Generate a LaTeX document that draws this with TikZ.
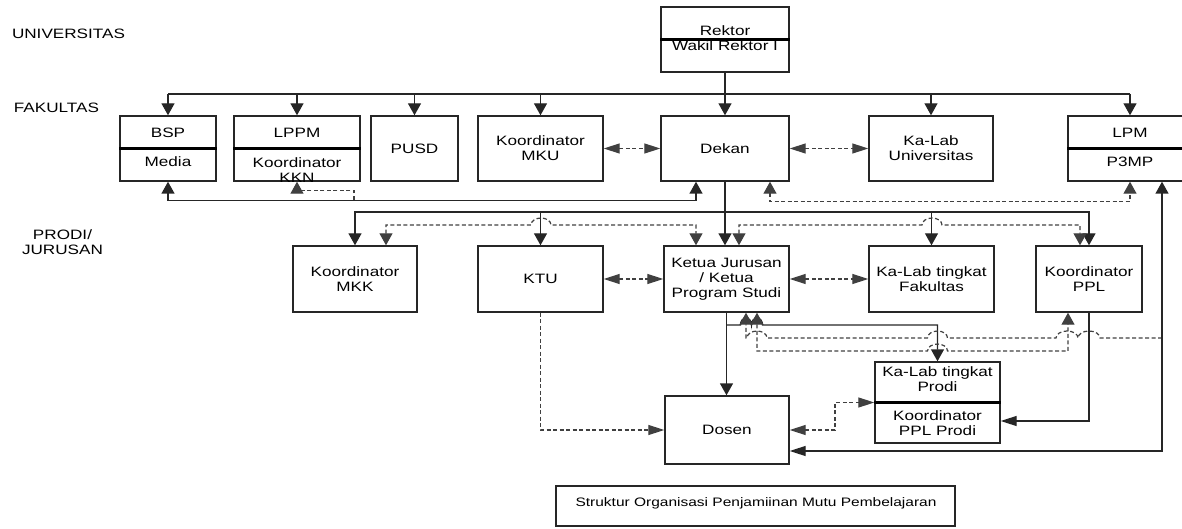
\documentclass[tikz,border=0pt]{standalone}
\usepackage{fontspec}
\setmainfont{Liberation Sans}[FakeStretch=1.26]
\usetikzlibrary{arrows.meta,calc}
\begin{document}
\begin{tikzpicture}[x=1pt,y=1pt,
  every node/.style={font=\fontsize{13.6}{15}\selectfont, inner sep=0pt},
  box/.style={draw=black!85, line width=1.4pt, rectangle, minimum height=65pt, align=center},
  divider/.style={line width=2.2pt, draw=black},
  ln/.style={line width=1.4pt, draw=black!85},
  dsh/.style={line width=1.2pt, draw=black!75, dash pattern=on 4pt off 2.5pt},
  av/.style={-{Triangle[length=12pt,width=13pt]}},
  ah/.style={-{Triangle[length=16pt,width=10pt]}},
  avv/.style={{Triangle[length=12pt,width=13pt]}-{Triangle[length=12pt,width=13pt]}},
  ahh/.style={{Triangle[length=16pt,width=10pt]}-{Triangle[length=16pt,width=10pt]}},
  avh/.style={{Triangle[length=12pt,width=13pt]}-{Triangle[length=16pt,width=10pt]}},
]
\useasboundingbox (0,0) rectangle (1182,528);

% level labels
\node (univ) at (68.5,494) {UNIVERSITAS};
\node (fak) at (56.5,420) {FAKULTAS};
\node[align=center] (prodi) at (62.5,286) {PRODI/\\JURUSAN};

% Rektor
\node[box, minimum width=128pt] (rektor) at (725,488.5) {};
\draw[divider] (rektor.west) -- (rektor.east);
\node[anchor=base] (rektorA) at (725,492) {Rektor};
\node[anchor=base] (rektorB) at (725,477.5) {Wakil Rektor I};

% Fakultas level
\node[box, minimum width=96pt] (bsp) at (168,379.5) {};
\draw[divider] (bsp.west) -- (bsp.east);
\node[anchor=base] (bspA) at (168,390) {BSP};
\node[anchor=base] (bspB) at (168,361) {Media};

\node[box, minimum width=126pt] (lppm) at (297,379.5) {};
\draw[divider] (lppm.west) -- (lppm.east);
\node[anchor=base] (lppmA) at (297,390) {LPPM};
\node[anchor=base] (lppmB) at (297,360) {Koordinator};
\node[anchor=base] (lppmC) at (297,345) {KKN};

\node[box, minimum width=87pt] (pusd) at (414.5,379.5) {PUSD};
\node[box, minimum width=125pt] (mku) at (540.5,379.5) {Koordinator\\MKU};
\node[box, minimum width=128pt] (dekan) at (725,379.5) {Dekan};
\node[box, minimum width=124pt] (kalabU) at (931,379.5) {Ka-Lab\\Universitas};

\node[box, minimum width=124pt] (lpm) at (1130,379.5) {};
\draw[divider] (lpm.west) -- (lpm.east);
\node[anchor=base] (lpmA) at (1130,390) {LPM};
\node[anchor=base] (lpmB) at (1130,361) {P3MP};

% Prodi level
\node[box, minimum width=124pt, minimum height=66pt] (mkk) at (355,249) {Koordinator\\MKK};
\node[box, minimum width=125pt, minimum height=66pt] (ktu) at (540.5,249) {KTU};
\node[box, minimum width=125pt, minimum height=66pt] (ketua) at (726.5,249) {Ketua Jurusan\\/ Ketua\\Program Studi};
\node[box, minimum width=125pt, minimum height=66pt] (kalabF) at (931.5,249) {Ka-Lab tingkat\\Fakultas};
\node[box, minimum width=106pt, minimum height=66pt] (ppl) at (1089,249) {Koordinator\\PPL};

% bottom
\node[box, minimum width=124pt, minimum height=68pt] (dosen) at (727,98) {Dosen};
\node[box, minimum width=125pt, minimum height=81pt] (kalabP) at (937.5,125.5) {};
\draw[divider] (kalabP.west) -- (kalabP.east);
\node[anchor=base] (kalabPA) at (937.5,152) {Ka-Lab tingkat};
\node[anchor=base] (kalabPB) at (937.5,137) {Prodi};
\node[anchor=base] (kalabPC) at (937.5,108) {Koordinator};
\node[anchor=base] (kalabPD) at (937.5,93) {PPL Prodi};

\node[box, minimum width=399pt, minimum height=40pt] (cap) at (755.5,22) {};
\node[font=\fontsize{12.3}{14}\selectfont] (capT) at (756,25) {Struktur Organisasi Penjamiinan Mutu Pembelajaran};

% ---------- connectors ----------
\draw[ln,av] (rektor.south) -- (dekan.north);
\coordinate (bus) at (0,434);
\draw[ln] (bsp.north |- bus) -- (lpm.north |- bus);
\foreach \n in {bsp,lppm,pusd,mku,kalabU,lpm} \draw[ln,av] (\n.north |- bus) -- (\n.north);

\draw[dsh,ahh] (mku.east) -- (dekan.west);
\draw[dsh,ahh] (dekan.east) -- (kalabU.west);

\draw[ln,avv] (bsp.south) |- ([xshift=-29pt,yshift=-19pt]dekan.south) -- ([xshift=-29pt]dekan.south);
\coordinate (j1) at (354,328);
\draw[dsh,av] (j1) |- ([yshift=-9pt]lppm.south) -- (lppm.south);
\draw[dsh,avv] ([xshift=45pt]dekan.south) |- ([yshift=-20pt]lpm.south) -- (lpm.south);

\draw[ln,av] (dekan.south) -- (dekan.south |- ketua.north);
\coordinate (bus2) at (0,316);
\draw[ln,avv] (mkk.north) |- (ppl.north |- bus2) -- (ppl.north);
\draw[ln,av] (ktu.north |- bus2) -- (ktu.north);
\draw[ln,av] (kalabF.north |- bus2) -- (kalabF.north);

\draw[dsh,avv] ([xshift=31pt]mkk.north) |- (531,303) arc[start angle=180,end angle=0,x radius=10,y radius=7] -| ([xshift=-30.5pt]ketua.north);
\draw[dsh,avv] ([xshift=12.5pt]ketua.north) |- (922,303) arc[start angle=180,end angle=0,x radius=10,y radius=7] -| ([xshift=-9pt]ppl.north);

\draw[dsh,ahh] (ktu.east) -- (ketua.west);
\draw[dsh,ahh] (ketua.east) -- (kalabF.west);

\draw[ln,av] (ketua.south) -- (ketua.south |- dosen.north);
\coordinate (j2) at (726.5,203);
\draw[ln,av] (j2) -- (740.5,203) arc[start angle=180,end angle=0,x radius=5.5,y radius=7] arc[start angle=180,end angle=0,x radius=5.5,y radius=7] -| (kalabP.north);

\coordinate (j3) at (1162,190);
\draw[dsh,av] (j3) -- (1100,190) arc[start angle=0,end angle=180,x radius=11,y radius=7] arc[start angle=0,end angle=180,x radius=11,y radius=7] -- (947.5,190) arc[start angle=0,end angle=180,x radius=10,y radius=7] -- (767,190) arc[start angle=0,end angle=180,x radius=10,y radius=7] -| ([xshift=19.5pt]ketua.south);
\draw[dsh,avv] ([xshift=30.5pt]ketua.south) |- (927.5,177) arc[start angle=180,end angle=0,x radius=10,y radius=7] -| ([xshift=-21pt]ppl.south);

\draw[ln,ah] (ppl.south) |- ([yshift=-18.5pt]kalabP.east);
\draw[dsh,ahh] (dosen.east) -- (835,98) |- (kalabP.west);
\draw[dsh,ah] (ktu.south) |- (dosen.west);
\draw[ln,avh] ([xshift=32pt]lpm.south) |- ([yshift=-21pt]dosen.east);
\end{tikzpicture}
\end{document}
